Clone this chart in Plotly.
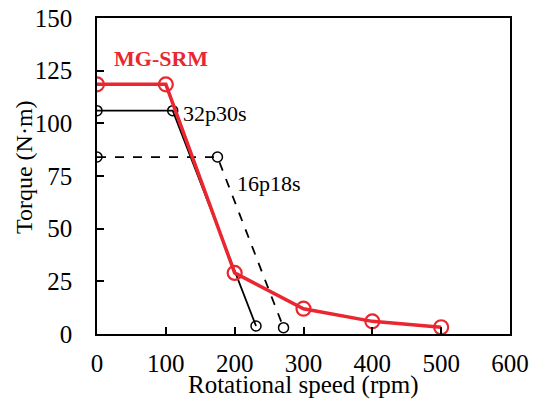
import plotly.graph_objects as go

# Data
mg_speed = [0, 100, 200, 300, 400, 500]
mg_torque = [118.5, 118.5, 29, 12, 6, 3.2]
p32_speed = [0, 110, 231]
p32_torque = [106, 106, 3.8]
p16_speed = [0, 175, 271]
p16_torque = [84, 84, 3]
x_ticks = [0, 100, 200, 300, 400, 500, 600]
y_ticks = [0, 25, 50, 75, 100, 125, 150]

RED = "#ea2630"
FONT = "Liberation Serif"

fig = go.Figure()
fig.add_trace(go.Scatter(x=p16_speed, y=p16_torque, mode="lines+markers",
                         line=dict(color="black", width=1.8, dash="dash"),
                         marker=dict(symbol="circle-open", size=10, color="black",
                                     line=dict(width=1.5, color="black"))))
fig.add_trace(go.Scatter(x=p32_speed, y=p32_torque, mode="lines+markers",
                         line=dict(color="black", width=1.8),
                         marker=dict(symbol="circle-open", size=10, color="black",
                                     line=dict(width=1.5, color="black"))))
fig.add_trace(go.Scatter(x=mg_speed, y=mg_torque, mode="lines+markers",
                         line=dict(color=RED, width=3.5),
                         marker=dict(symbol="circle-open", size=14, color=RED,
                                     line=dict(width=2.2, color=RED))))

fig.update_layout(
    width=537, height=399,
    margin=dict(l=97, r=27, t=18, b=65, autoexpand=False),
    plot_bgcolor="white", paper_bgcolor="white",
    showlegend=False,
    font=dict(family=FONT, size=25, color="black"),
    xaxis=dict(range=[0, 600], tickvals=x_ticks, ticks="inside", ticklen=7,
               tickwidth=1.5, tickcolor="black", showline=True, mirror=True,
               linecolor="black", linewidth=1.5, showgrid=False, zeroline=False,
               ticklabelstandoff=6, automargin=False,
               tickfont=dict(family=FONT, size=25, color="black")),
    yaxis=dict(range=[0, 150], tickvals=y_ticks, ticks="inside", ticklen=7,
               tickwidth=1.5, tickcolor="black", showline=True, mirror=True,
               linecolor="black", linewidth=1.5, showgrid=False, zeroline=False,
               ticklabelstandoff=18, automargin=False,
               tickfont=dict(family=FONT, size=25, color="black")),
    annotations=[
        dict(text="Rotational speed (rpm)", xref="paper", yref="paper",
             x=0.5, y=-0.161, xanchor="center", yanchor="middle", showarrow=False,
             font=dict(family=FONT, size=25, color="black")),
        dict(text="Torque (N·m)", xref="paper", yref="paper", textangle=-90,
             x=-0.178, y=0.53, xanchor="center", yanchor="middle", showarrow=False,
             font=dict(family=FONT, size=24, color="black")),
        dict(text="<b>MG-SRM</b>", x=93, y=131, xanchor="center", yanchor="middle",
             showarrow=False, font=dict(family=FONT, size=22, color=RED)),
        dict(text="32p30s", x=122, y=104.5, xanchor="left", yanchor="middle",
             showarrow=False, font=dict(family=FONT, size=22, color="black")),
        dict(text="16p18s", x=200, y=71.5, xanchor="left", yanchor="middle",
             showarrow=False, font=dict(family=FONT, size=22, color="black")),
    ],
)

fig.write_html("out.html")
